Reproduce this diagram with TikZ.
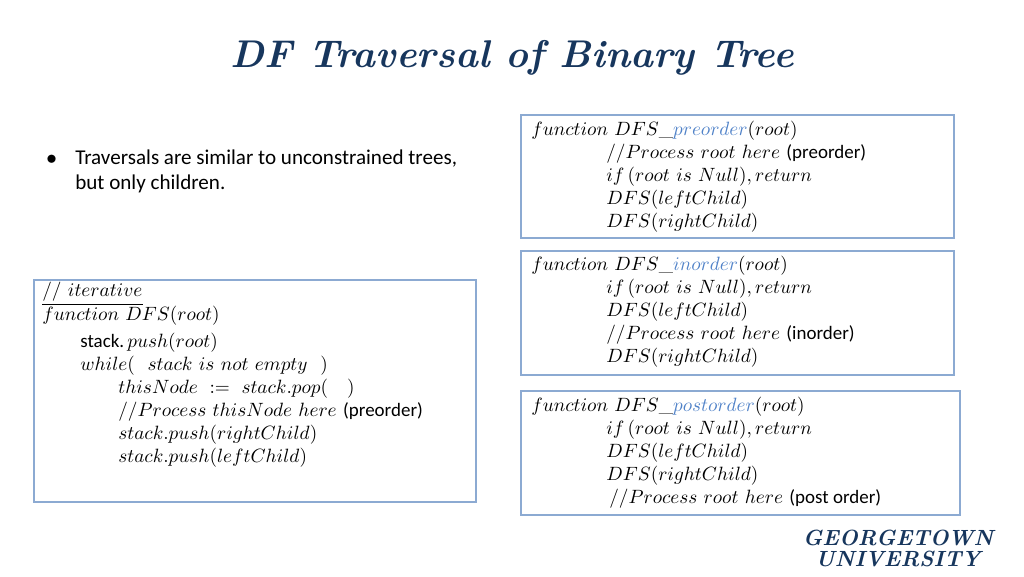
\documentclass[tikz,border=0pt]{standalone}
\usepackage{amsmath,amssymb}
\usepackage{fontspec}
\setsansfont{Carlito}
\usepackage{xcolor}
\usetikzlibrary{positioning,calc}
\definecolor{titleblue}{RGB}{23,54,93}
\definecolor{boxblue}{RGB}{140,170,210}
\definecolor{kwblue}{RGB}{80,130,200}
\begin{document}
\begin{tikzpicture}[x=0.02cm, y=-0.02cm,
    codebox/.style={draw=boxblue, line width=0.6pt},
    line/.style={anchor=west, inner sep=0pt, font=\fontsize{10.8}{13}\selectfont}]
    \useasboundingbox (0,0) rectangle (1024,576);

    \node[font=\fontsize{22}{24}\selectfont\bfseries\itshape, text=titleblue] (title) at (512,58) {DF Traversal of Binary Tree};

    % bullet
    \node[line, font=\sffamily\fontsize{12}{14}\selectfont] (bul) at (46,160) {$\bullet$};
    \node[line, font=\sffamily\fontsize{12}{14}\selectfont, align=left, anchor=north west] (bultext) at (75,150)
        {Traversals are similar to unconstrained trees,\\but only children.};

    % preorder
    \draw[codebox] (521,115) rectangle (954,238);
    \node[line] (p1) at (531,131) {$function\ DFS\_\textcolor{kwblue}{preorder}(root)$};
    \node[line] (p2) at (606,154) {$//Process\ root\ here$ {\sffamily (preorder)}};
    \node[line] (p3) at (606,177) {$if\,(root\ is\ Null), return$};
    \node[line] (p4) at (606,200) {$DFS(leftChild)$};
    \node[line] (p5) at (606,223) {$DFS(rightChild)$};

    % inorder
    \draw[codebox] (521,251) rectangle (954,375);
    \node[line] (i1) at (531,266) {$function\ DFS\_\textcolor{kwblue}{inorder}(root)$};
    \node[line] (i2) at (606,289) {$if\,(root\ is\ Null), return$};
    \node[line] (i3) at (606,312) {$DFS(leftChild)$};
    \node[line] (i4) at (606,335) {$//Process\ root\ here$ {\sffamily (inorder)}};
    \node[line] (i5) at (606,358) {$DFS(rightChild)$};

    % postorder
    \draw[codebox] (521,391) rectangle (960,515);
    \node[line] (o1) at (531,407) {$function\ DFS\_\textcolor{kwblue}{postorder}(root)$};
    \node[line] (o2) at (606,430) {$if\,(root\ is\ Null), return$};
    \node[line] (o3) at (606,453) {$DFS(leftChild)$};
    \node[line] (o4) at (606,476) {$DFS(rightChild)$};
    \node[line] (o5) at (609,499) {$//Process\ root\ here$ {\sffamily (post order)}};

    % iterative
    \draw[codebox] (34,280) rectangle (476,502);
    \node[line] (t1) at (42,292) {$//\ iterative$};
    \draw[line width=0.5pt] ($(t1.south west)+(0,2)$) -- ($(t1.south east)+(0,2)$);
    \node[line] (t2) at (42,316) {$function\ DFS(root)$};
    \node[line] (t3) at (80,343) {{\sffamily stack.}\,$push(root)$};
    \node[line] (t4) at (80,366) {$while(\ \ stack\ is\ not\ empty\ \ )$};
    \node[line] (t5) at (118,389) {$thisNode\ \mathrel{:=}\ stack.pop(\quad)$};
    \node[line] (t6) at (118,412) {$//Process\ thisNode\ here$ {\sffamily (preorder)}};
    \node[line] (t7) at (118,435) {$stack.push(rightChild)$};
    \node[line] (t8) at (118,458) {$stack.push(leftChild)$};

    % logo
    \node[font=\bfseries\itshape\fontsize{12.5}{13}\selectfont, text=titleblue, align=center] (logo) at (898,548)
        {GEORGETOWN\\[-1pt]UNIVERSITY};
\end{tikzpicture}
\end{document}
